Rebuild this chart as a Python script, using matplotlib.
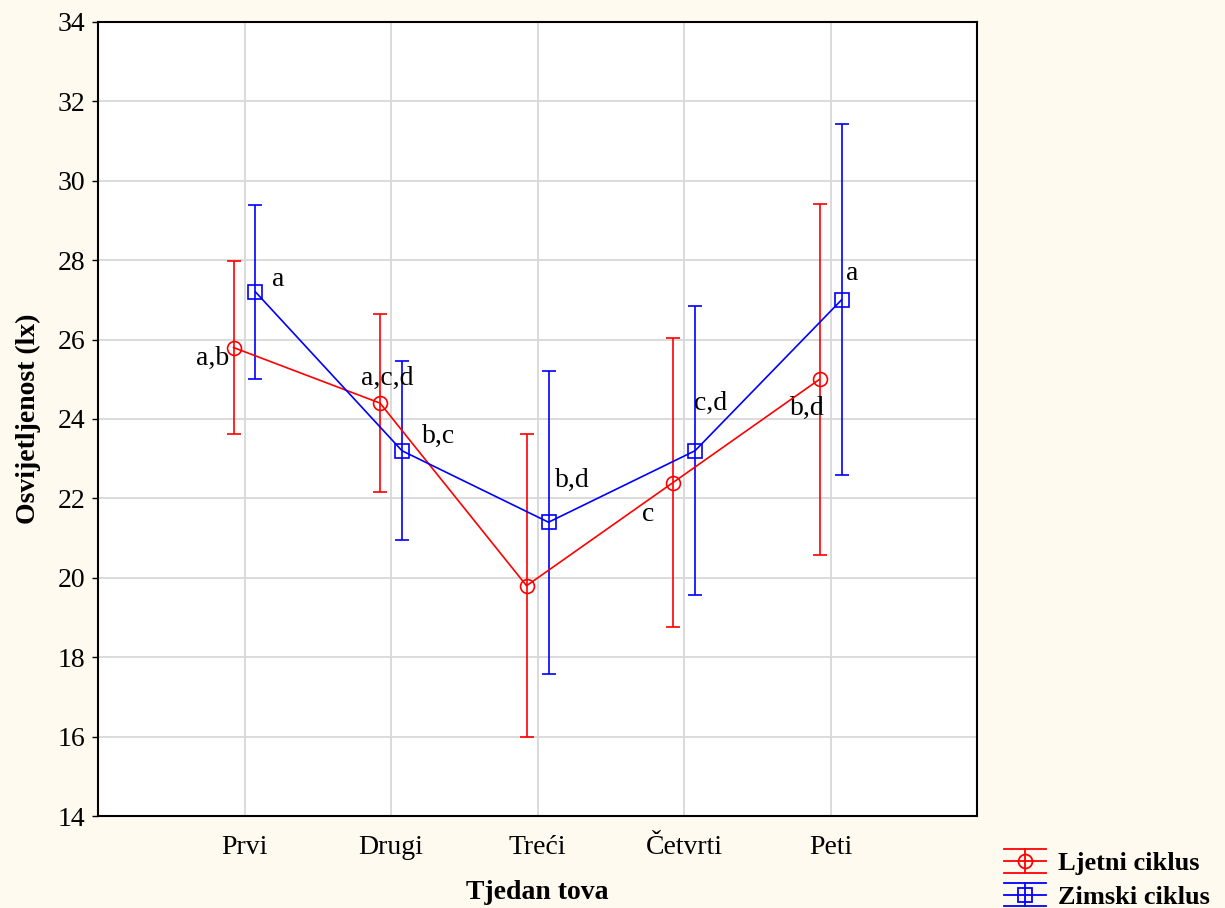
import matplotlib
matplotlib.use("Agg")
import matplotlib.pyplot as plt
from matplotlib.lines import Line2D
from matplotlib.legend_handler import HandlerBase
import numpy as np

categories = ["Prvi", "Drugi", "Treći", "Četvrti", "Peti"]
ljetni_mean = [25.8, 24.4, 19.8, 22.4, 25.0]
ljetni_err = [2.17, 2.24, 3.82, 3.63, 4.42]
zimski_mean = [27.2, 23.2, 21.4, 23.2, 27.0]
zimski_err = [2.18, 2.25, 3.82, 3.64, 4.42]
ljetni_labels = ["a,b", "a,c,d", "", "c", "b,d"]
zimski_labels = ["a", "b,c", "b,d", "c,d", "a"]

plt.rcParams['font.family'] = ['Liberation Serif', 'DejaVu Serif']

bg = '#FFFAF0'
FS = 20
fig = plt.figure(figsize=(12.25, 9.08), dpi=100, facecolor=bg)
ax = fig.add_axes([0.080, 0.1013, 0.7176, 0.8745])
ax.set_facecolor('white')

x = np.arange(1, len(categories) + 1)
off = 0.075

ax.errorbar(x - off, ljetni_mean, yerr=ljetni_err, color='#FF0000', marker='o',
            markersize=10, markerfacecolor='none', markeredgewidth=1.2, lw=1.2,
            elinewidth=1.2, capsize=4.7, capthick=1.2, label='Ljetni ciklus', zorder=3)
ax.errorbar(x + off, zimski_mean, yerr=zimski_err, color='#0000FF', marker='s',
            markersize=10, markerfacecolor='none', markeredgewidth=1.2, lw=1.2,
            elinewidth=1.2, capsize=4.7, capthick=1.2, label='Zimski ciklus', zorder=3)

l_off = [(-15, -8), (5, 18), (0, 0), (-18, -23), (-9, -21)]
z_off = [(16, 9), (26, 10), (17, 30), (11, 34), (8, 19)]
for xi, yi, t, (dx, dy) in zip(x - off, ljetni_mean, ljetni_labels, l_off):
    if t:
        ax.annotate(t, (xi, yi), xytext=(dx, dy), textcoords='offset points',
                    ha='center', va='center', fontsize=FS)
for xi, yi, t, (dx, dy) in zip(x + off, zimski_mean, zimski_labels, z_off):
    if t:
        ax.annotate(t, (xi, yi), xytext=(dx, dy), textcoords='offset points',
                    ha='center', va='center', fontsize=FS)

ax.set_xlim(0, 6)
ax.set_ylim(14, 34)
ax.set_xticks(x)
ax.set_xticklabels(categories)
ax.set_yticks(np.arange(14, 35, 2))
ax.grid(True, color='#D8D8D8', lw=1.3)
ax.set_axisbelow(True)
ax.tick_params(axis='both', labelsize=FS, direction='out', length=4, width=1)
ax.tick_params(axis='x', length=0, pad=14)
ax.tick_params(axis='y', pad=5)
for s in ax.spines.values():
    s.set_linewidth(1.5)
    s.set_color('black')

ax.set_xlabel('Tjedan tova', fontsize=FS, fontweight='bold', labelpad=14)
ax.set_ylabel('Osvijetljenost (lx)', fontsize=FS, fontweight='bold', labelpad=12)


class ErrHandler(HandlerBase):
    def __init__(self, color, marker):
        super().__init__()
        self.color = color
        self.marker = marker

    def create_artists(self, legend, orig_handle, xdescent, ydescent, width, height,
                       fontsize, trans):
        x0, x1 = -xdescent, width - xdescent
        y0, y1 = -ydescent, height - ydescent
        ym = (y0 + y1) / 2
        xm = (x0 + x1) / 2
        arts = []
        for yy in (y0, ym, y1):
            arts.append(Line2D([x0, x1], [yy, yy], color=self.color, lw=1.3))
        arts.append(Line2D([xm, xm], [y0, y1], color=self.color, lw=1.3))
        arts.append(Line2D([xm], [ym], color=self.color, marker=self.marker,
                           markersize=10, markerfacecolor='none', markeredgewidth=1.3,
                           linestyle='none'))
        for a in arts:
            a.set_transform(trans)
        return arts


h1 = Line2D([], [], color='red')
h2 = Line2D([], [], color='blue')
leg = fig.legend([h1, h2], ['Ljetni ciklus', 'Zimski ciklus'],
                 handler_map={h1: ErrHandler('#FF0000', 'o'), h2: ErrHandler('#0000FF', 's')},
                 loc='lower left', bbox_to_anchor=(0.802, -0.024), frameon=False,
                 prop={'weight': 'bold', 'size': 19}, handlelength=1.6, handleheight=1.0,
                 handletextpad=0.45, labelspacing=0.3, borderpad=0.3)

fig.savefig('out.png', dpi=100, facecolor=bg)
